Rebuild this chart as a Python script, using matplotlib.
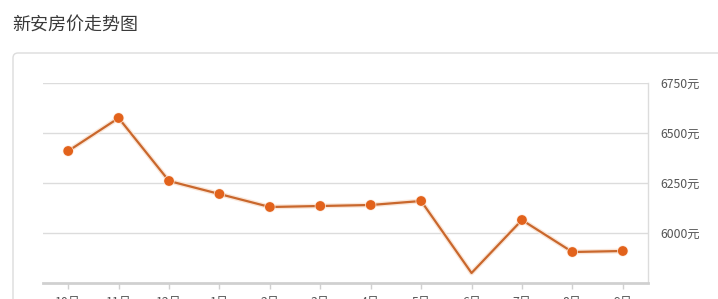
import matplotlib
matplotlib.use("Agg")
import matplotlib.pyplot as plt
import matplotlib.patheffects as pe
from matplotlib.patches import FancyBboxPatch
from matplotlib.transforms import IdentityTransform

plt.rcParams['font.family'] = ['Noto Sans CJK SC', 'DejaVu Sans']

# data
months = ['10月', '11月', '12月', '1月', '2月', '3月', '4月', '5月', '6月', '7月', '8月', '9月']
prices = [6410, 6575, 6260, 6195, 6130, 6135, 6140, 6160, 5800, 6065, 5905, 5910]
y_ticks = [6000, 6250, 6500, 6750]

fig = plt.figure(figsize=(7.18, 2.99), dpi=100)
fig.patch.set_facecolor('white')

# title
fig.text(12 / 718, 1 - 25 / 299, '新安房价走势图', fontsize=13, color='#3a3a3a',
         ha='left', va='center')

# card border (runs off the right and bottom edges), kept behind the axes
card = FancyBboxPatch((13, -40), 760, 246 + 40, boxstyle='round,pad=0,rounding_size=5',
                      transform=IdentityTransform(), facecolor='white',
                      edgecolor='#dcdcdc', linewidth=1.0, zorder=-5)
fig.patches.append(card)

ax = fig.add_axes([43 / 718, 16 / 299, 605 / 718, 200 / 299])
ax.set_facecolor('none')
ax.set_zorder(2)

x = list(range(len(months)))
marks = [i for i in x if months[i] != '6月']
ax.plot(x, prices, color='#c9672c', linewidth=1.6, zorder=3,
        path_effects=[pe.Stroke(linewidth=3.5, foreground='#fae6d8'), pe.Normal()])
ax.plot([x[i] for i in marks], [prices[i] for i in marks], 'o', color='#e2621b',
        markersize=6, zorder=4,
        path_effects=[pe.Stroke(linewidth=2, foreground='#fce9dc'), pe.Normal()])

ax.set_xlim(-0.5, len(months) - 0.5)
ax.set_ylim(5750, 6750)
ax.set_xticks(x)
ax.set_xticklabels(months)
ax.set_yticks(y_ticks)
ax.set_yticklabels([f'{v}元' for v in y_ticks])

ax.yaxis.tick_right()
ax.tick_params(axis='y', length=0, pad=9, labelsize=8.8, labelcolor='#555555')
ax.tick_params(axis='x', length=4, width=1, color='#d0d0d0', pad=5,
               labelsize=8.8, labelcolor='#555555')
ax.grid(axis='y', color='#dcdcdc', linewidth=1)
ax.set_axisbelow(True)

for side in ['left', 'top']:
    ax.spines[side].set_visible(False)
ax.spines['right'].set_color('#dcdcdc')
ax.spines['right'].set_linewidth(1)
ax.spines['bottom'].set_color('#d0d0d0')
ax.spines['bottom'].set_linewidth(2)

fig.savefig('out.png', dpi=100)
